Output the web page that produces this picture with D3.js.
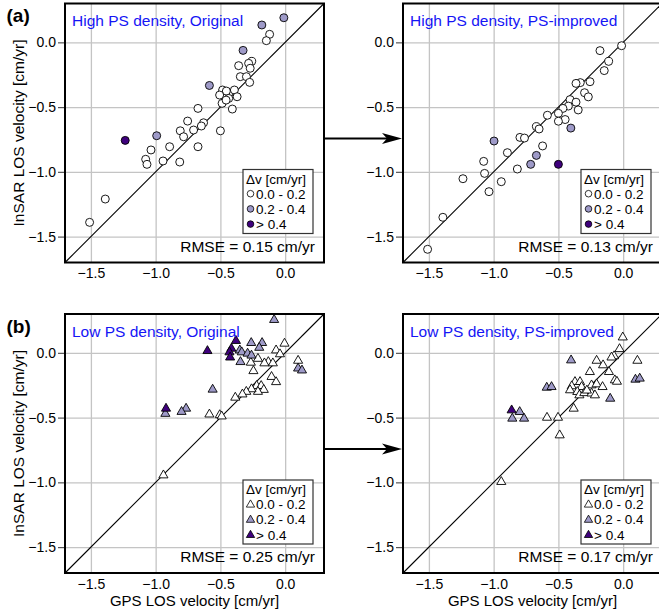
<!DOCTYPE html>
<html><head><meta charset="utf-8">
<script src="https://cdn.jsdelivr.net/npm/d3@7"></script>
<style>
body{margin:0;background:#fff}
svg{display:block;font-family:"Liberation Sans",Arial,Helvetica,sans-serif}
</style>
</head><body>
<svg id="chart" width="659" height="614"></svg>
<script>
// ---- data: [GPS LOS velocity, InSAR LOS velocity, Δv class] ----
const highOriginal = [
  [-0.12,0.062,0],[-0.145,0.013,0],[-0.258,-0.147,0],[-0.282,-0.162,0],[-0.359,-0.18,0],
  [-0.27,-0.2,0],[-0.346,-0.265,0],[-0.299,-0.265,0],[-0.274,-0.309,0],[-0.483,-0.368,0],
  [-0.454,-0.376,0],[-0.392,-0.368,0],[-0.506,-0.407,0],[-0.436,-0.433,0],[-0.371,-0.42,0],
  [-0.487,-0.471,0],[-0.456,-0.446,0],[-0.408,-0.515,0],[-0.673,-0.51,0],[-0.753,-0.608,0],
  [-0.63,-0.621,0],[-0.647,-0.646,0],[-0.81,-0.683,0],[-0.707,-0.677,0],[-0.784,-0.729,0],
  [-0.5,-0.683,0],[-0.673,-0.806,0],[-0.892,-0.806,0],[-0.943,-0.916,0],[-0.814,-0.924,0],
  [-1.036,-0.831,0],[-1.077,-0.903,0],[-1.067,-0.942,0],[-1.389,-1.21,0],[-1.51,-1.39,0],
  [-0.01,0.19,1],[-0.18,0.134,1],[-0.325,-0.062,1],[-0.585,-0.333,1],[-0.992,-0.721,1],
  [-1.235,-0.757,2]
];
const highImproved = [
  [-0.012,-0.026,0],[-0.179,-0.064,0],[-0.112,-0.147,0],[-0.146,-0.218,0],[-0.256,-0.304,0],
  [-0.331,-0.311,0],[-0.364,-0.317,0],[-0.298,-0.389,0],[-0.269,-0.421,0],[-0.41,-0.442,0],
  [-0.364,-0.462,0],[-0.423,-0.492,0],[-0.465,-0.51,0],[-0.347,-0.522,0],[-0.5,-0.548,0],
  [-0.585,-0.563,0],[-0.448,-0.596,0],[-0.5,-0.609,0],[-0.67,-0.651,0],[-0.649,-0.669,0],
  [-0.797,-0.734,0],[-0.762,-0.739,0],[-0.622,-0.8,0],[-0.894,-0.852,0],[-0.817,-0.978,0],
  [-1.077,-0.919,0],[-1.07,-1.012,0],[-0.941,-1.076,0],[-1.036,-1.153,0],[-1.237,-1.053,0],
  [-1.392,-1.351,0],[-1.51,-1.598,0],
  [-0.404,-0.662,1],[-0.997,-0.762,1],[-0.67,-0.873,1],[-0.714,-0.942,1],
  [-0.5,-0.942,2]
];
const lowOriginal = [
  [-0.005,0.072,0],[-0.07,0.02,0],[-0.04,-0.01,0],[-0.13,-0.07,0],[-0.095,-0.08,0],
  [-0.16,-0.08,0],[-0.21,-0.045,0],[-0.265,-0.075,0],[-0.245,-0.14,0],[-0.105,-0.185,0],
  [-0.07,-0.225,0],[0.1,-0.06,0],[-0.22,-0.255,0],[-0.185,-0.255,0],[-0.165,-0.285,0],
  [-0.21,-0.3,0],[-0.26,-0.28,0],[-0.3,-0.3,0],[-0.33,-0.32,0],[-0.385,-0.345,0],
  [-0.585,-0.475,0],[-0.505,-0.48,0],[-0.49,-0.49,0],[-0.94,-0.945,0],
  [-0.085,0.255,1],[-0.262,0.077,1],[-0.178,0.077,1],[-0.2,0.04,1],[-0.35,0.02,1],
  [-0.335,0.005,1],[-0.29,-0.005,1],[-0.26,-0.02,1],[-0.345,-0.07,1],[-0.56,-0.283,1],
  [0.1,-0.12,1],[0.13,-0.135,1],[-0.765,-0.43,1],[-0.8,-0.455,1],[-0.925,-0.47,1],
  [-0.6,0.015,2],[-0.38,0.093,2],[-0.415,0.033,2],[-0.43,0.005,2],[-0.425,-0.035,2],
  [-0.92,-0.43,2]
];
const lowImproved = [
  [-0.003,0.12,0],[-0.028,0.03,0],[-0.07,-0.025,0],[-0.09,-0.035,0],[0.11,-0.06,0],
  [-0.205,-0.06,0],[-0.155,-0.095,0],[-0.257,-0.147,0],[-0.11,-0.147,0],[-0.064,-0.211,0],
  [-0.048,-0.222,0],[-0.372,-0.224,0],[-0.333,-0.224,0],[-0.397,-0.257,0],[-0.321,-0.263,0],
  [-0.244,-0.25,0],[-0.205,-0.242,0],[-0.159,-0.263,0],[-0.41,-0.288,0],[-0.354,-0.301,0],
  [-0.338,-0.327,0],[-0.3,-0.31,0],[-0.244,-0.313,0],[-0.218,-0.327,0],[-0.28,-0.29,0],
  [-0.382,-0.43,0],[-0.588,-0.5,0],[-0.503,-0.5,0],[-0.49,-0.636,0],[-0.941,-0.996,0],
  [-0.402,-0.057,1],[-0.59,-0.268,1],[-0.553,-0.263,1],[-0.1,-0.353,1],[0.095,-0.206,1],
  [0.128,-0.198,1],[-0.856,-0.507,1],[-0.799,-0.456,1],[-0.765,-0.507,1],
  [-0.861,-0.443,2]
];
const panelTitles = ["High PS density, Original","High PS density, PS-improved",
                     "Low PS density, Original","Low PS density, PS-improved"];
const rmseLabels = ["RMSE = 0.15 cm/yr","RMSE = 0.13 cm/yr","RMSE = 0.25 cm/yr","RMSE = 0.17 cm/yr"];
const panelLetters = ["(a)","(b)"];
const tickValues = [-1.5,-1.0,-0.5,0.0];
const axisDomain = [-1.7,0.3];
const legendTitle = "Δv [cm/yr]";
const legendLabels = ["0.0 - 0.2","0.2 - 0.4","> 0.4"];
const classColors = ["#ffffff","#9e9ac8","#3f007d"];
const xAxisTitle = "GPS LOS velocity [cm/yr]";
const yAxisTitle = "InSAR LOS velocity [cm/yr]";

// ---- layout ----
const svg = d3.select("#chart");
const S = 259;
const lefts = [65, 403];
const tops = [3.5, 314];
const panels = [
  {data: highOriginal, c:0, r:0, shape:"circle"},
  {data: highImproved, c:1, r:0, shape:"circle"},
  {data: lowOriginal,  c:0, r:1, shape:"triangle"},
  {data: lowImproved,  c:1, r:1, shape:"triangle"}
];
const fmt = d3.format(".1f");
const triPath = d3.symbol().type(d3.symbolTriangle).size(36);
const triLeg = d3.symbol().type(d3.symbolTriangle).size(30);
const FONT = '"Liberation Sans",Arial,sans-serif';
const LEG_FS = 13.5, LEG_STEP = 15.2;

panels.forEach((p, i) => {
  const L = lefts[p.c], T = tops[p.r];
  const x = d3.scaleLinear().domain(axisDomain).range([L, L + S]);
  const y = d3.scaleLinear().domain(axisDomain).range([T + S, T]);
  const g = svg.append("g");

  g.append("rect").attr("x", L).attr("y", T).attr("width", S).attr("height", S).attr("fill", "#fff");

  // grid
  g.append("g").attr("transform", `translate(0,${T + S})`)
    .call(d3.axisBottom(x).tickValues(tickValues).tickSize(-S).tickFormat(""))
    .call(a => a.select(".domain").remove())
    .call(a => a.selectAll("line").attr("stroke", "#c4c4c4").attr("stroke-width", 1.3));
  g.append("g").attr("transform", `translate(${L},0)`)
    .call(d3.axisLeft(y).tickValues(tickValues).tickSize(-S).tickFormat(""))
    .call(a => a.select(".domain").remove())
    .call(a => a.selectAll("line").attr("stroke", "#c4c4c4").attr("stroke-width", 1.3));

  // y axis ticks + labels
  g.append("g").attr("transform", `translate(${L},0)`)
    .call(d3.axisLeft(y).tickValues(tickValues).tickSize(7).tickPadding(2).tickFormat(fmt))
    .call(a => a.select(".domain").remove())
    .call(a => a.selectAll("line").attr("stroke", "#555").attr("stroke-width", 1.2))
    .call(a => a.selectAll("text").attr("font-size", 14).attr("fill", "#000").attr("font-family", FONT));
  // x axis labels
  g.append("g").attr("transform", `translate(0,${T + S})`)
    .call(d3.axisBottom(x).tickValues(tickValues).tickSize(0).tickPadding(6).tickFormat(fmt))
    .call(a => a.select(".domain").remove())
    .call(a => a.selectAll("text").attr("font-size", 14).attr("fill", "#000").attr("font-family", FONT));

  // 1:1 line
  g.append("line")
    .attr("x1", x(axisDomain[0])).attr("y1", y(axisDomain[0]))
    .attr("x2", x(axisDomain[1])).attr("y2", y(axisDomain[1]))
    .attr("stroke", "#000").attr("stroke-width", 1.1);

  // points
  const pts = p.data.slice().sort((a, b) => a[2] - b[2]);
  if (p.shape === "circle") {
    g.selectAll("circle.pt").data(pts).join("circle").attr("class", "pt")
      .attr("cx", d => x(d[0])).attr("cy", d => y(d[1])).attr("r", 4)
      .attr("fill", d => classColors[d[2]]).attr("stroke", "#000").attr("stroke-width", 0.9);
  } else {
    g.selectAll("path.pt").data(pts).join("path").attr("class", "pt")
      .attr("d", triPath)
      .attr("transform", d => `translate(${x(d[0])},${y(d[1])})`)
      .attr("fill", d => classColors[d[2]]).attr("stroke", "#000").attr("stroke-width", 0.9);
  }

  // title
  g.append("text").attr("x", L + 7).attr("y", T + 22.5)
    .attr("font-size", 15.5).attr("fill", "#1515f5").text(panelTitles[i]);
  // RMSE
  g.append("text").attr("x", L + S - 9).attr("y", T + S - 11)
    .attr("text-anchor", "end").attr("font-size", 15.5).attr("fill", "#000").text(rmseLabels[i]);

  // legend
  const bx = L + S - 81, by = T + 166;
  const lg = g.append("g");
  lg.append("rect").attr("x", bx).attr("y", by).attr("width", 70).attr("height", 64)
    .attr("fill", "#fff").attr("stroke", "#333").attr("stroke-width", 1.2);
  lg.append("text").attr("x", bx + 3).attr("y", by + 14).attr("font-size", LEG_FS).text(legendTitle);
  legendLabels.forEach((lab, k) => {
    const yy = by + 14 + (k + 1) * LEG_STEP;
    if (p.shape === "circle") {
      lg.append("circle").attr("cx", bx + 7.5).attr("cy", yy - 5).attr("r", 3.3)
        .attr("fill", classColors[k]).attr("stroke", "#000").attr("stroke-width", 0.8);
    } else {
      lg.append("path").attr("d", triLeg).attr("transform", `translate(${bx + 7.5},${yy - 4.5})`)
        .attr("fill", classColors[k]).attr("stroke", "#000").attr("stroke-width", 0.8);
    }
    lg.append("text").attr("x", bx + 13).attr("y", yy).attr("font-size", LEG_FS).text(lab);
  });

  // frame
  g.append("rect").attr("x", L).attr("y", T).attr("width", S).attr("height", S)
    .attr("fill", "none").attr("stroke", "#000").attr("stroke-width", 2);

  // axis titles
  if (p.c === 0) {
    g.append("text").attr("transform", `translate(24,${T + S / 2}) rotate(-90)`)
      .attr("text-anchor", "middle").attr("font-size", 15.5).text(yAxisTitle);
  }
  if (p.r === 1) {
    g.append("text").attr("x", L + S / 2).attr("y", T + S + 33)
      .attr("text-anchor", "middle").attr("font-size", 15).text(xAxisTitle);
  }
});

// panel letters
panelLetters.forEach((t, r) => {
  svg.append("text").attr("x", 6.5).attr("y", tops[r] + 18.5)
    .attr("font-size", 19).attr("font-weight", "bold").text(t);
});

// arrows between panels
tops.forEach(T => {
  const yy = T + 135;
  const x0 = lefts[0] + S + 1, x1 = lefts[1] - 1;
  svg.append("line").attr("x1", x0).attr("y1", yy).attr("x2", x1 - 12).attr("y2", yy)
    .attr("stroke", "#000").attr("stroke-width", 2.2);
  svg.append("path")
    .attr("d", `M${x1},${yy} L${x1 - 20},${yy - 5.5} L${x1 - 15},${yy} L${x1 - 20},${yy + 5.5} Z`)
    .attr("fill", "#000");
});
</script>
</body></html>
